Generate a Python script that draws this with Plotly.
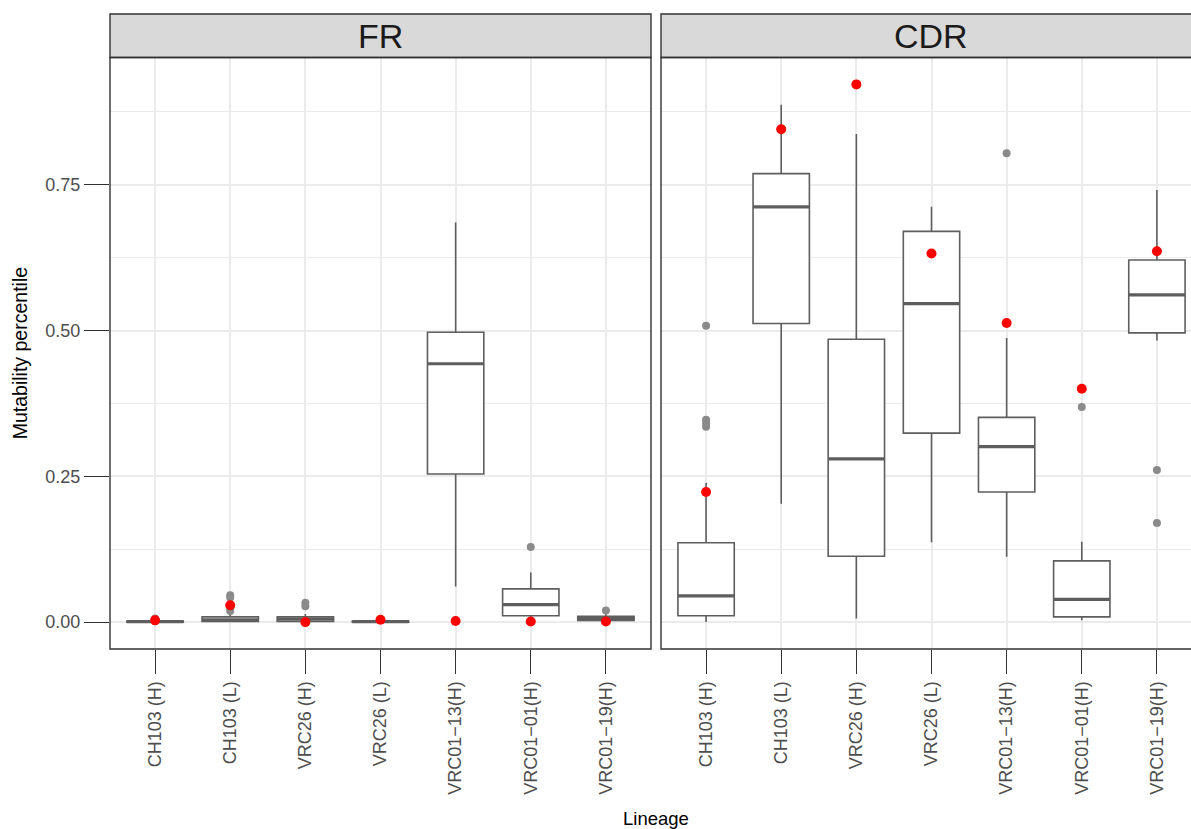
import plotly.graph_objects as go

# ---- data -------------------------------------------------------------
lineages = ["CH103 (H)", "CH103 (L)", "VRC26 (H)", "VRC26 (L)",
            "VRC01\u221213(H)", "VRC01\u221201(H)", "VRC01\u221219(H)"]

# FR region: box statistics per lineage
fr_q1 = [0.000, 0.001, 0.001, 0.000, 0.254, 0.011, 0.003]
fr_median = [0.001, 0.004, 0.005, 0.001, 0.443, 0.030, 0.006]
fr_q3 = [0.002, 0.009, 0.009, 0.002, 0.497, 0.057, 0.010]
fr_lower = [0.000, 0.000, 0.000, 0.000, 0.061, 0.002, 0.000]
fr_upper = [0.003, 0.015, 0.014, 0.002, 0.685, 0.085, 0.014]
fr_outlier_idx = [0, 1, 1, 1, 1, 2, 2, 5, 6]
fr_outlier_val = [0.006, 0.046, 0.042, 0.024, 0.019, 0.033, 0.027, 0.129, 0.020]
fr_highlight = [0.003, 0.029, 0.000, 0.004, 0.002, 0.001, 0.001]

# CDR region: box statistics per lineage
cdr_q1 = [0.011, 0.512, 0.113, 0.324, 0.223, 0.009, 0.496]
cdr_median = [0.045, 0.712, 0.280, 0.546, 0.301, 0.039, 0.561]
cdr_q3 = [0.136, 0.769, 0.485, 0.670, 0.351, 0.105, 0.621]
cdr_lower = [0.000, 0.203, 0.006, 0.137, 0.112, 0.003, 0.483]
cdr_upper = [0.239, 0.887, 0.837, 0.712, 0.487, 0.138, 0.741]
cdr_outlier_idx = [0, 0, 0, 0, 4, 5, 6, 6]
cdr_outlier_val = [0.508, 0.347, 0.341, 0.335, 0.804, 0.369, 0.261, 0.170]
cdr_highlight = [0.223, 0.845, 0.922, 0.632, 0.513, 0.400, 0.636]

y_ticks = [0.0, 0.25, 0.5, 0.75]
y_minor = [0.125, 0.375, 0.625, 0.875]

# ---- styling ----------------------------------------------------------
FONT = "Liberation Sans, Arial, Helvetica, sans-serif"
BOX_COLOR = "#5e5e5e"
OUT_COLOR = "#8a8a8a"
DARK = "#333333"
GRID = "#EBEBEB"
BOX_W = 0.75

W, H = 1191, 829
ML, MR, MT, MB = 110, 0, 14, 180
plot_w = W - ML - MR
plot_h = H - MT - MB
panel_px = 541          # width of one facet panel
gap_px = 10             # space between facets
strip_px = 43.5         # strip height

left_dom = [0, panel_px / plot_w]
right_start = (panel_px + gap_px) / plot_w
right_end_px = panel_px * 2 + gap_px
right_dom = [right_start, 1.0]
y_dom_top = (plot_h - strip_px) / plot_h

xr_left = [-0.6, 6.6]
unit_px = panel_px / 7.2
xr_right = [-0.6, -0.6 + (plot_w - (panel_px + gap_px)) / unit_px]
yr = [-0.0461, 0.9681]

fig = go.Figure()

panels = [
    ("x", "y", fr_q1, fr_median, fr_q3, fr_lower, fr_upper,
     fr_outlier_idx, fr_outlier_val, fr_highlight),
    ("x2", "y2", cdr_q1, cdr_median, cdr_q3, cdr_lower, cdr_upper,
     cdr_outlier_idx, cdr_outlier_val, cdr_highlight),
]

pos = list(range(len(lineages)))
for xa, ya, q1, med, q3, lo, hi, oidx, oval, hl in panels:
    fig.add_trace(go.Box(
        x=pos, q1=q1, median=med, q3=q3, lowerfence=lo, upperfence=hi,
        width=BOX_W, whiskerwidth=0, fillcolor="white",
        line=dict(color=BOX_COLOR, width=1.6), boxpoints=False,
        xaxis=xa, yaxis=ya, showlegend=False, hoverinfo="skip"))
    # thicker median bars
    mx, my = [], []
    for p, m in zip(pos, med):
        mx += [p - BOX_W / 2, p + BOX_W / 2, None]
        my += [m, m, None]
    fig.add_trace(go.Scatter(
        x=mx, y=my, mode="lines", line=dict(color=BOX_COLOR, width=3.2),
        xaxis=xa, yaxis=ya, showlegend=False, hoverinfo="skip"))
    fig.add_trace(go.Scatter(
        x=oidx, y=oval, mode="markers",
        marker=dict(color=OUT_COLOR, size=8, line=dict(width=0)),
        xaxis=xa, yaxis=ya, showlegend=False, hoverinfo="skip"))
    fig.add_trace(go.Scatter(
        x=pos, y=hl, mode="markers",
        marker=dict(color="#FF0000", size=10, line=dict(width=0)),
        xaxis=xa, yaxis=ya, showlegend=False, hoverinfo="skip"))

tickfont = dict(family=FONT, size=18, color="#4D4D4D")
xcommon = dict(tickmode="array", tickvals=pos, ticktext=lineages,
               tickangle=-90, ticks="outside", ticklen=24, tickwidth=1.3,
               tickcolor=DARK, tickfont=tickfont, showgrid=True,
               gridcolor=GRID, gridwidth=1.6, zeroline=False,
               showline=False)
fig.update_layout(
    width=W, height=H,
    margin=dict(l=ML, r=MR, t=MT, b=MB, pad=0),
    paper_bgcolor="white", plot_bgcolor="white",
    font=dict(family=FONT),
    xaxis=dict(domain=left_dom, range=xr_left, **xcommon),
    xaxis2=dict(domain=right_dom, range=xr_right, anchor="y2", **xcommon),
    yaxis=dict(domain=[0, y_dom_top], range=yr, tickmode="array",
               tickvals=y_ticks, tickformat=".2f", ticks="outside",
               ticklen=25, tickwidth=1.3, tickcolor=DARK, tickfont=tickfont,
               showgrid=True, gridcolor=GRID, gridwidth=1.6,
               zeroline=False, showline=False,
               minor=dict(tickmode="array", tickvals=y_minor, showgrid=True,
                          gridcolor=GRID, gridwidth=0.9, ticks="")),
    yaxis2=dict(domain=[0, y_dom_top], range=yr, anchor="x2", matches="y",
                tickmode="array", tickvals=y_ticks, showticklabels=False,
                ticks="", showgrid=True, gridcolor=GRID, gridwidth=1.6,
                zeroline=False, showline=False,
                minor=dict(tickmode="array", tickvals=y_minor, showgrid=True,
                           gridcolor=GRID, gridwidth=0.9, ticks="")),
)

# panel borders and strips
right_x1 = right_end_px / plot_w
for x0, x1, label in [(left_dom[0], left_dom[1], "FR"),
                      (right_dom[0], right_x1, "CDR")]:
    fig.add_shape(type="rect", xref="paper", yref="paper",
                  x0=x0, x1=x1, y0=y_dom_top, y1=1.0,
                  fillcolor="#D9D9D9", line=dict(color=DARK, width=1.4),
                  layer="above")
    fig.add_shape(type="rect", xref="paper", yref="paper",
                  x0=x0, x1=x1, y0=0, y1=y_dom_top,
                  fillcolor="rgba(0,0,0,0)", line=dict(color=DARK, width=1.4),
                  layer="above")
    fig.add_annotation(xref="paper", yref="paper",
                       x=(x0 + x1) / 2, y=(y_dom_top + 1) / 2,
                       text=label, showarrow=False,
                       font=dict(family=FONT, size=34, color="#1A1A1A"),
                       xanchor="center", yanchor="middle")

# axis titles
fig.add_annotation(xref="paper", yref="paper",
                   x=(right_end_px / 2) / plot_w, y=-(818 - (H - MB)) / plot_h,
                   text="Lineage", showarrow=False,
                   font=dict(family=FONT, size=18.5, color="black"),
                   xanchor="center", yanchor="middle")
fig.add_annotation(xref="paper", yref="paper",
                   x=(20 - ML) / plot_w, y=y_dom_top / 2,
                   text="Mutability percentile", showarrow=False,
                   textangle=-90,
                   font=dict(family=FONT, size=19.5, color="black"),
                   xanchor="center", yanchor="middle")

fig.write_html("out.html")
